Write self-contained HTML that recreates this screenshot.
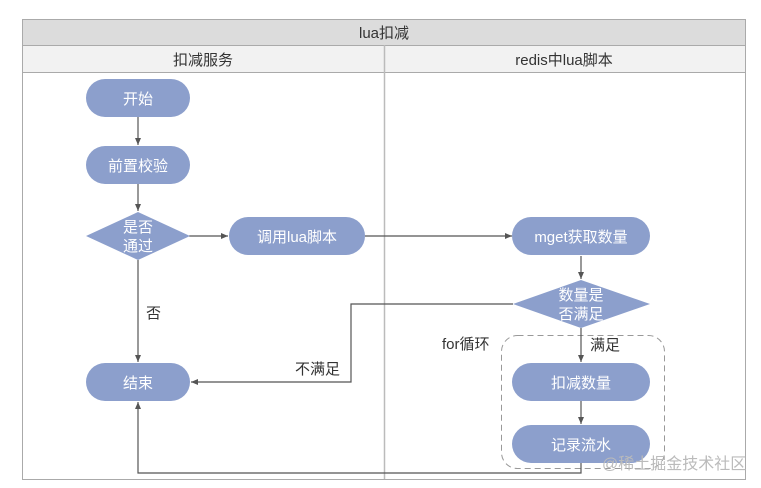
<!DOCTYPE html>
<html><head><meta charset="utf-8"><style>html,body{margin:0;padding:0;background:#fff;width:761px;height:488px;overflow:hidden}</style></head>
<body>
<svg width="761" height="488" viewBox="0 0 761 488" xmlns="http://www.w3.org/2000/svg" font-family="Liberation Sans, Noto Sans CJK SC, sans-serif">
<defs><marker id="a" markerWidth="8" markerHeight="8" refX="7" refY="4" orient="auto" markerUnits="userSpaceOnUse"><path d="M0,1 L7,4 L0,7 z" fill="#555"/></marker></defs>
<rect x="22.5" y="19.5" width="723" height="460" fill="#fff" stroke="#aaa"/>
<rect x="22.5" y="19.5" width="723" height="26" fill="#dcdcdc" stroke="#aaa"/>
<rect x="22.5" y="45.5" width="723" height="27" fill="#f2f2f2" stroke="#aaa"/>
<line x1="384.5" y1="45" x2="384.5" y2="479" stroke="#bbb" stroke-width="1.5"/>
<g font-size="15" fill="#333" text-anchor="middle">
<text x="384" y="38">lua扣减</text>
<text x="203" y="65">扣减服务</text>
<text x="564" y="65">redis中lua脚本</text>
</g>
<rect x="501.5" y="335.5" width="163" height="133" rx="16" fill="none" stroke="#999" stroke-dasharray="6,4"/>
<g stroke="#555" stroke-width="1.2" fill="none">
<line x1="138" y1="117" x2="138" y2="145" marker-end="url(#a)"/>
<line x1="138" y1="184" x2="138" y2="211" marker-end="url(#a)"/>
<line x1="189" y1="236" x2="228" y2="236" marker-end="url(#a)"/>
<line x1="365" y1="236" x2="512" y2="236" marker-end="url(#a)"/>
<line x1="138" y1="260" x2="138" y2="362" marker-end="url(#a)"/>
<line x1="581" y1="256" x2="581" y2="279" marker-end="url(#a)"/>
<line x1="581" y1="328" x2="581" y2="362" marker-end="url(#a)"/>
<line x1="581" y1="401" x2="581" y2="424" marker-end="url(#a)"/>
<polyline points="513,304 351,304 351,382 191,382" marker-end="url(#a)"/>
<polyline points="581,463 581,473 138,473 138,402" marker-end="url(#a)"/>
</g>
<g fill="#8c9fcc">
<rect x="86" y="79" width="104" height="38" rx="19"/>
<rect x="86" y="146" width="104" height="38" rx="19"/>
<polygon points="86,236 138,212 190,236 138,260"/>
<rect x="229" y="217" width="136" height="38" rx="19"/>
<rect x="86" y="363" width="104" height="38" rx="19"/>
<rect x="512" y="217" width="138" height="38" rx="19"/>
<polygon points="513,304 581,280 650,304 581,328"/>
<rect x="512" y="363" width="138" height="38" rx="19"/>
<rect x="512" y="425" width="138" height="38" rx="19"/>
</g>
<g font-size="15" fill="#fff" text-anchor="middle">
<text x="138" y="104">开始</text>
<text x="138" y="171">前置校验</text>
<text x="138" y="232">是否</text>
<text x="138" y="251">通过</text>
<text x="297" y="242">调用lua脚本</text>
<text x="138" y="388">结束</text>
<text x="581" y="242">mget获取数量</text>
<text x="581" y="300">数量是</text>
<text x="581" y="319">否满足</text>
<text x="581" y="388">扣减数量</text>
<text x="581" y="450">记录流水</text>
</g>
<g font-size="15" fill="#333">
<text x="146" y="318">否</text>
<text x="295" y="374">不满足</text>
<text x="442" y="349">for循环</text>
<text x="590" y="350">满足</text>
</g>
<text x="602" y="469" font-size="16" fill="#bbb">@稀土掘金技术社区</text>
</svg>
</body></html>
